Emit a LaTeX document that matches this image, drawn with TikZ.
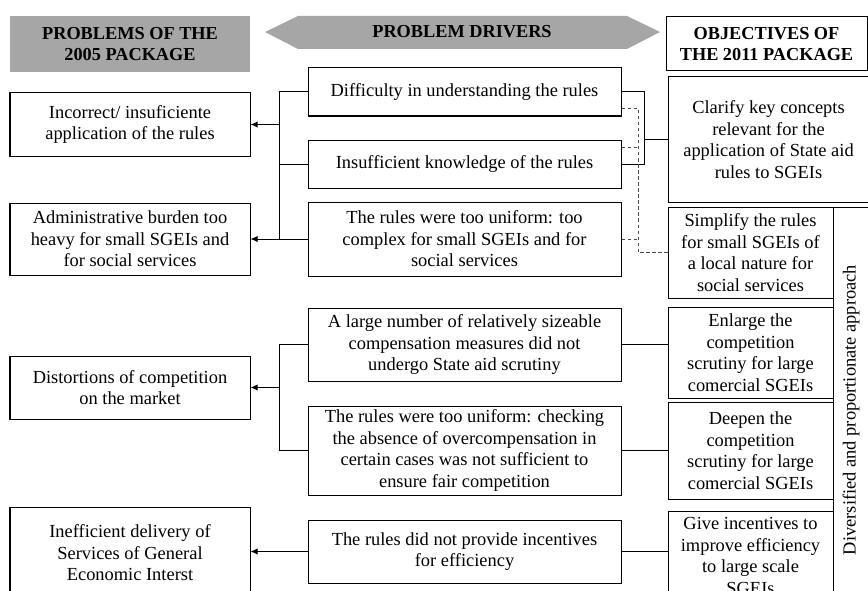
\documentclass[tikz,border=0pt]{standalone}
\usepackage{fontspec}
\setmainfont{Liberation Serif}
\usetikzlibrary{arrows.meta}
\definecolor{hdrgray}{RGB}{166,166,166}
\tikzset{
	box/.style={draw, line width=0.25mm, align=center, inner sep=0pt, font=\fontsize{13.1}{15.3}\selectfont},
	hdr/.style={align=center, inner sep=0pt, font=\fontsize{13}{14.5}\selectfont\bfseries},
	wd/.style={minimum width=#1*0.025cm},
	ht/.style={minimum height=#1*0.025cm},
	arr/.style={line width=0.25mm, -{Latex[length=5pt,width=4.5pt]}},
	link/.style={line width=0.25mm},
	dashlink/.style={line width=0.25mm, black!70, dash pattern=on 2.5pt off 1.8pt}
}
\begin{document}
\begin{tikzpicture}[x=0.025cm, y=-0.025cm]
	\useasboundingbox (0,0) rectangle (868,591);
	
	% headers
	\node[hdr, fill=hdrgray, wd=240, ht=56] (hdrL) at (130,44) {PROBLEMS OF THE\\2005 PACKAGE};
	\fill[hdrgray] (265,32) -- (298,16) -- (627,16) -- (660,32) -- (627,49) -- (298,49) -- cycle;
	\node[hdr] (hdrM) at (462,32) {PROBLEM DRIVERS};
	\node[hdr, draw, line width=0.25mm, wd=201, ht=54] (hdrR) at (766.5,44) {OBJECTIVES OF\\THE 2011 PACKAGE};
	
	% problems
	\node[box, wd=240, ht=63] (L1) at (130,124.5) {Incorrect/ insuficiente\\application of the rules};
	\node[box, wd=240, ht=72] (L2) at (130,239) {Administrative burden too\\heavy for small SGEIs and\\for social services};
	\node[box, wd=240, ht=63] (L3) at (130,387.5) {Distortions of competition\\on the market};
	\node[box, wd=240, ht=92] (L4) at (130,553) {Inefficient delivery of\\Services of General\\Economic Interst};
	
	% drivers
	\node[box, wd=313, ht=48] (M1) at (464.5,92) {Difficulty in understanding the rules};
	\node[box, wd=313, ht=48] (M2) at (464.5,164) {Insufficient knowledge of the rules};
	\node[box, wd=313, ht=74] (M3) at (464.5,239) {The rules were too uniform: too\\complex for small SGEIs and for\\social services};
	\node[box, wd=313, ht=73] (M4) at (464.5,344.5) {A large number of relatively sizeable\\compensation measures did not\\undergo State aid scrutiny};
	\node[box, wd=313, ht=89] (M5) at (464.5,450.5) {The rules were too uniform: checking\\the absence of overcompensation in\\certain cases was not sufficient to\\ensure fair competition};
	\node[box, wd=313, ht=63] (M6) at (464.5,551.5) {The rules did not provide incentives\\for efficiency};
	
	% objectives
	\node[box, wd=201, ht=125] (R1) at (768.5,139.5) {Clarify key concepts\\relevant for the\\application of State aid\\rules to SGEIs};
	\node[box, wd=165, ht=91] (R2) at (750.5,252.5) {Simplify the rules\\for small SGEIs of\\a local nature for\\social services};
	\node[box, wd=165, ht=91] (R3) at (750.5,352.5) {Enlarge the\\competition\\scrutiny for large\\comercial SGEIs};
	\node[box, wd=165, ht=97] (R4) at (750.5,450.5) {Deepen the\\competition\\scrutiny for large\\comercial SGEIs};
	\node[box, wd=165, ht=90] (R5) at (750.5,556) {Give incentives to\\improve efficiency\\to large scale\\SGEIs};
	\node[box, rotate=90, wd=406, ht=36] (VB) at (851,410) {Diversified and proportionate approach};
	
	\coordinate (b1) at (279,0);
	\coordinate (b2) at (644,0);
	\coordinate (b3) at (638,0);
	
	% left side
	\draw[link] (M1.west) -- (M1.west -| b1) -- (M3.west -| b1) -- (M3.west);
	\draw[link] (M2.west) -- (M2.west -| b1);
	\draw[arr] (L1.east -| b1) -- (L1.east);
	\draw[arr] (L2.east -| b1) -- (L2.east);
	\draw[link] (M4.west) -- (M4.west -| b1) -- (M5.west -| b1) -- (M5.west);
	\draw[arr] (L3.east -| b1) -- (L3.east);
	\draw[arr] (M6.west) -- (M6.west -| L4.east);
	
	% right side
	\draw[link] (M1.east) -- (M1.east -| b2) -- (M2.east -| b2) -- (M2.east);
	\draw[link] (R1.west -| b2) -- (R1.west);
	\draw[dashlink] ([yshift=-0.4cm]M1.east) -| (R2.west -| b3) -- (R2.west);
	\draw[dashlink] ([yshift=0.4cm]M2.east) -- ([yshift=0.4cm]M2.east -| b3);
	\draw[dashlink] (M3.east) -- (M3.east -| b3);
	\draw[link] (M4.east) -- (M4.east -| R3.west);
	\draw[link] (M5.east) -- (R4.west);
	\draw[link] (M6.east) -- (M6.east -| R5.west);
\end{tikzpicture}
\end{document}
